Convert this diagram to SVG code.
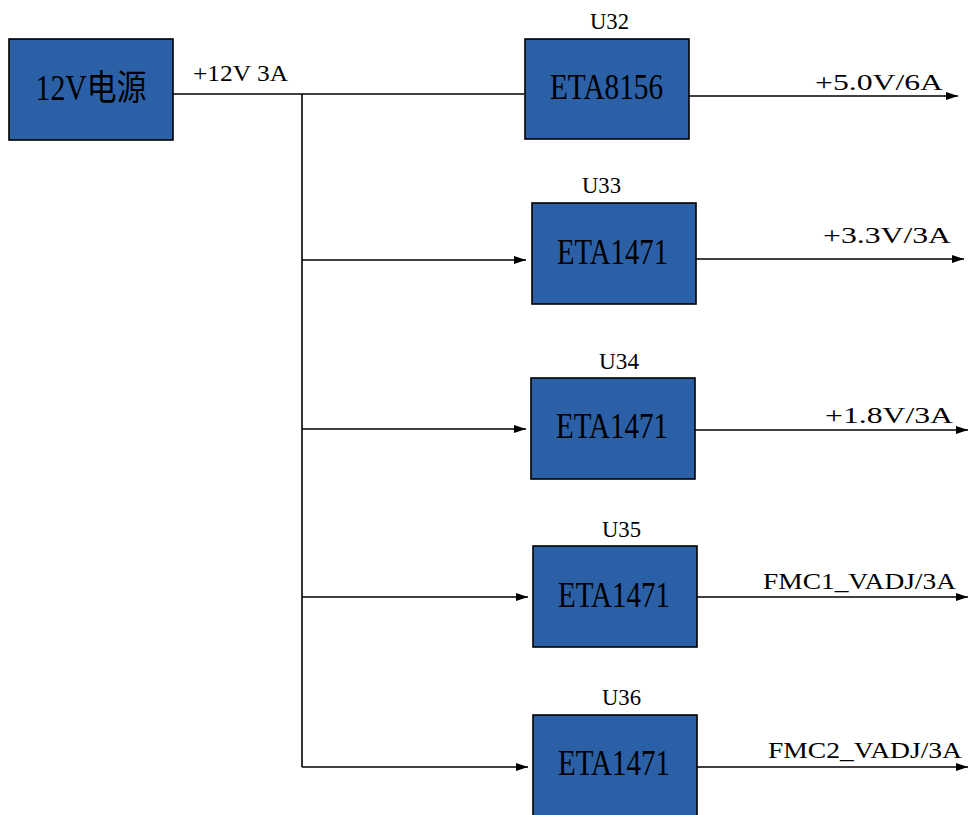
<svg xmlns="http://www.w3.org/2000/svg" width="968" height="815" viewBox="0 0 968 815">
<defs>
<marker id="arr" markerWidth="12" markerHeight="8" refX="12" refY="4" orient="auto" markerUnits="userSpaceOnUse">
<path d="M0,0 L12,4 L0,8 Z" fill="#000"/>
</marker>
<style>
.box{fill:#2B5FA6;stroke:#000;stroke-width:1.6}
.bt{font-family:"Liberation Serif","Noto Sans CJK SC",serif;font-size:35px;fill:#000;text-anchor:middle}
.ul{font-family:"Liberation Serif",serif;font-size:24px;fill:#000}
.ol{font-family:"Liberation Serif",serif;font-size:24px;fill:#000}
.ln{stroke:#000;stroke-width:1.6;fill:none}
.la{stroke:#000;stroke-width:1.6;fill:none;marker-end:url(#arr)}
</style>
</defs>
<rect width="968" height="815" fill="#fff"/>
<g id="connectors">
<line class="ln" x1="173" y1="94" x2="524" y2="94"/>
<line class="ln" x1="302" y1="94" x2="302" y2="767"/>
<line class="la" x1="302" y1="260" x2="526" y2="260"/>
<line class="la" x1="302" y1="429" x2="526" y2="429"/>
<line class="la" x1="302" y1="597" x2="528" y2="597"/>
<line class="la" x1="302" y1="767" x2="528" y2="767"/>
<line class="la" x1="689" y1="96" x2="958" y2="96"/>
<line class="la" x1="696" y1="259" x2="964" y2="259"/>
<line class="la" x1="695" y1="430" x2="968" y2="430"/>
<line class="la" x1="697" y1="597" x2="968" y2="597"/>
<line class="la" x1="697" y1="767" x2="968" y2="767"/>
<text class="ul" x="193" y="81" textLength="95" lengthAdjust="spacingAndGlyphs">+12V 3A</text>
<text class="ol" x="815" y="90" textLength="128" lengthAdjust="spacingAndGlyphs">+5.0V/6A</text>
<text class="ol" x="823" y="243" textLength="128" lengthAdjust="spacingAndGlyphs">+3.3V/3A</text>
<text class="ol" x="825" y="423" textLength="128" lengthAdjust="spacingAndGlyphs">+1.8V/3A</text>
<text class="ol" x="763" y="589" textLength="193" lengthAdjust="spacingAndGlyphs">FMC1_VADJ/3A</text>
<text class="ol" x="768" y="758" textLength="194" lengthAdjust="spacingAndGlyphs">FMC2_VADJ/3A</text>
</g>
<g id="src">
<rect class="box" x="9" y="39" width="164" height="101"/>
<text class="bt" x="91" y="100" textLength="111" lengthAdjust="spacingAndGlyphs">12V电源</text>
</g>
<g id="u32">
<rect class="box" x="525" y="39" width="164" height="100"/>
<text class="ul" x="590" y="29" textLength="39" lengthAdjust="spacingAndGlyphs">U32</text>
<text class="bt" x="606.5" y="99" textLength="113" lengthAdjust="spacingAndGlyphs">ETA8156</text>
</g>
<g id="u33">
<rect class="box" x="532" y="203" width="164" height="101"/>
<text class="ul" x="582" y="193" textLength="39" lengthAdjust="spacingAndGlyphs">U33</text>
<text class="bt" x="612.5" y="264" textLength="111" lengthAdjust="spacingAndGlyphs">ETA1471</text>
</g>
<g id="u34">
<rect class="box" x="531" y="378" width="164" height="101"/>
<text class="ul" x="599" y="369" textLength="40" lengthAdjust="spacingAndGlyphs">U34</text>
<text class="bt" x="612" y="438" textLength="112" lengthAdjust="spacingAndGlyphs">ETA1471</text>
</g>
<g id="u35">
<rect class="box" x="533" y="546" width="164" height="101"/>
<text class="ul" x="602" y="537" textLength="39" lengthAdjust="spacingAndGlyphs">U35</text>
<text class="bt" x="614" y="607" textLength="112" lengthAdjust="spacingAndGlyphs">ETA1471</text>
</g>
<g id="u36">
<rect class="box" x="533" y="715" width="164" height="110"/>
<text class="ul" x="602" y="705" textLength="39" lengthAdjust="spacingAndGlyphs">U36</text>
<text class="bt" x="614" y="775" textLength="112" lengthAdjust="spacingAndGlyphs">ETA1471</text>
</g>
</svg>
